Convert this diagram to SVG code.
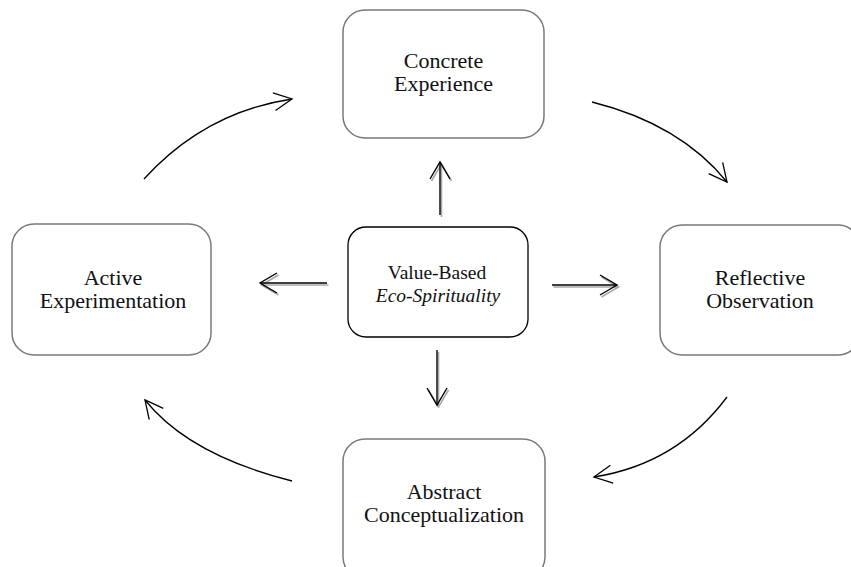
<svg xmlns="http://www.w3.org/2000/svg" width="851" height="567" viewBox="0 0 851 567">
  <style>
    .box { fill: #ffffff; stroke: #7a7a7a; stroke-width: 1.5; }
    .hub { fill: #ffffff; stroke: #000000; stroke-width: 1.3; }
    .label { font-family: "Liberation Serif", "Times New Roman", serif; font-size: 22px; fill: #111111; text-anchor: middle; }
    .hub-label { font-family: "Liberation Serif", "Times New Roman", serif; font-size: 19.5px; fill: #111111; text-anchor: middle; }
    .cycle { fill: none; stroke: #000000; stroke-width: 1.3; marker-end: url(#open-head); }
    .spoke { fill: none; stroke: #000000; stroke-width: 1.4; marker-end: url(#spoke-head); }
    .spoke-shadow { fill: none; stroke: #a8a8a8; stroke-width: 1.6; marker-end: url(#spoke-head-shadow); }
  </style>
  <defs>
    <marker id="open-head" markerUnits="userSpaceOnUse" viewBox="-20 -11 22 22" refX="0" refY="0" markerWidth="22" markerHeight="22" orient="auto" overflow="visible">
      <path d="M-18,-9 L0,0 L-18,9" fill="none" stroke="#000000" stroke-width="1.3"/>
    </marker>
    <marker id="spoke-head" markerUnits="userSpaceOnUse" viewBox="-20 -12 22 24" refX="0" refY="0" markerWidth="22" markerHeight="24" orient="auto" overflow="visible">
      <path d="M-17,-10 L0,0 L-17,10" fill="none" stroke="#000000" stroke-width="1.4"/>
    </marker>
    <marker id="spoke-head-shadow" markerUnits="userSpaceOnUse" viewBox="-20 -12 22 24" refX="0" refY="0" markerWidth="22" markerHeight="24" orient="auto" overflow="visible">
      <path d="M-17,-10 L0,0 L-17,10" fill="none" stroke="#a8a8a8" stroke-width="1.6"/>
    </marker>
  </defs>

  <!-- cycle stages -->
  <g id="concrete-experience">
    <rect class="box" x="343" y="10" width="201" height="128" rx="22" ry="22"/>
    <text class="label" x="443.5" y="68">Concrete</text>
    <text class="label" x="443.5" y="91">Experience</text>
  </g>
  <g id="reflective-observation">
    <rect class="box" x="660" y="225" width="200" height="130" rx="22" ry="22"/>
    <text class="label" x="760" y="285">Reflective</text>
    <text class="label" x="760" y="308">Observation</text>
  </g>
  <g id="abstract-conceptualization">
    <rect class="box" x="343" y="439" width="202" height="140" rx="22" ry="22"/>
    <text class="label" x="444" y="499">Abstract</text>
    <text class="label" x="444" y="522">Conceptualization</text>
  </g>
  <g id="active-experimentation">
    <rect class="box" x="12" y="224" width="199" height="131" rx="22" ry="22"/>
    <text class="label" x="113" y="285">Active</text>
    <text class="label" x="113" y="308">Experimentation</text>
  </g>

  <!-- central value hub -->
  <g id="value-based-eco-spirituality">
    <rect class="hub" x="348" y="227" width="180" height="110" rx="18" ry="18"/>
    <text class="hub-label" x="437" y="279">Value-Based</text>
    <text class="hub-label" x="438" y="302" font-style="italic">Eco-Spirituality</text>
  </g>

  <g id="connectors">
    <!-- curved cycle arrows -->
    <path class="cycle" d="M144,179 Q205,112 292,99"/>
    <path class="cycle" d="M592,102 Q680,124 727,182"/>
    <path class="cycle" d="M727,397 Q677,464 594,477"/>
    <path class="cycle" d="M292,481 Q189,455 145,400"/>

    <!-- hub spokes: soft grey offset copy under each black arrow -->
    <g transform="translate(1.5,2)">
      <path class="spoke-shadow" d="M440,215 L440,162"/>
      <path class="spoke-shadow" d="M327,283 L260,283"/>
      <path class="spoke-shadow" d="M552,285 L617,285"/>
      <path class="spoke-shadow" d="M437,350 L437,405"/>
    </g>
    <path class="spoke" d="M440,215 L440,162"/>
    <path class="spoke" d="M327,283 L260,283"/>
    <path class="spoke" d="M552,285 L617,285"/>
    <path class="spoke" d="M437,350 L437,405"/>
  </g>
</svg>
